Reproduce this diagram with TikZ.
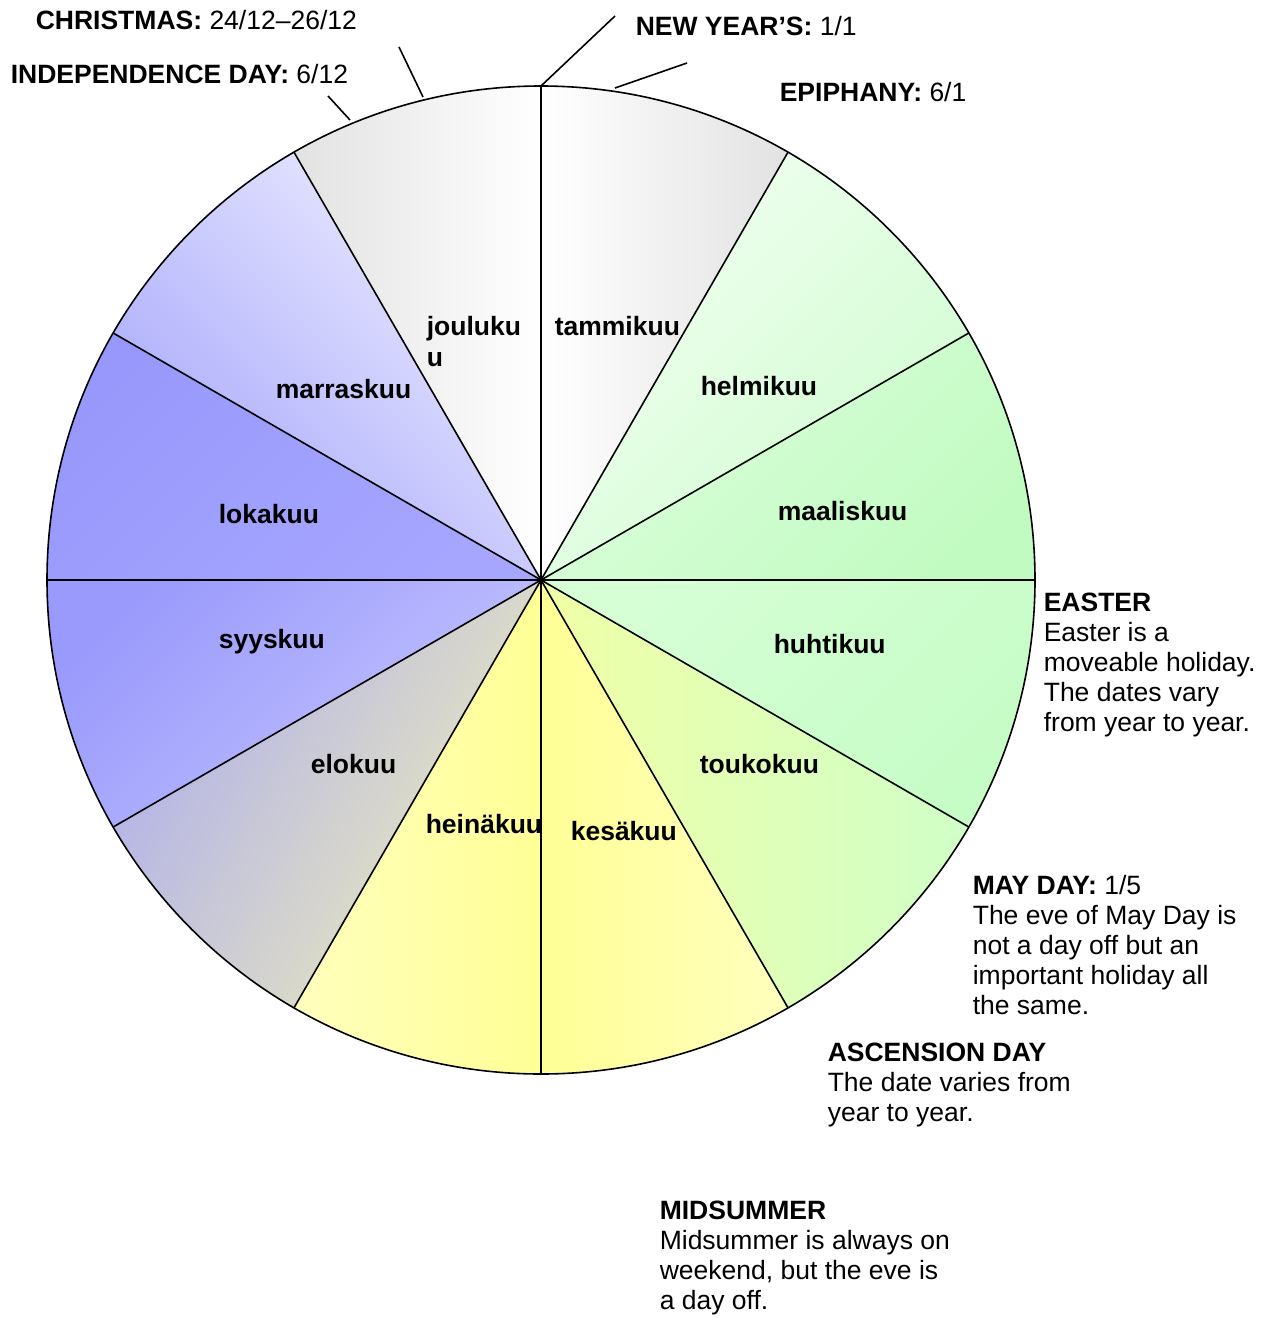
\documentclass[tikz,border=0pt]{standalone}
\usepackage{fontspec}
\setmainfont{Liberation Sans}
\usepackage{tikz}

\definecolor{grayE}{HTML}{E2E2E2}
\definecolor{greenHa}{HTML}{F2FFF2}
\definecolor{greenHb}{HTML}{D0FCD0}
\definecolor{greenMa}{HTML}{DCFEDC}
\definecolor{greenMb}{HTML}{C2FBC2}
\definecolor{greenAa}{HTML}{D6FFD6}
\definecolor{greenAb}{HTML}{C6FCC6}
\definecolor{ygA}{HTML}{F0FFA6}
\definecolor{ygB}{HTML}{D0FFC8}
\definecolor{yelS}{HTML}{FFFF96}
\definecolor{yelP}{HTML}{FFFFBE}
\definecolor{eloB}{HTML}{B0B0EA}
\definecolor{eloY}{HTML}{ECEBBC}
\definecolor{syyD}{HTML}{9A9AFC}
\definecolor{syyL}{HTML}{C4C4FF}
\definecolor{lokD}{HTML}{9898FC}
\definecolor{lokL}{HTML}{A6A6FF}
\definecolor{marL}{HTML}{EEEEFF}
\definecolor{marD}{HTML}{A6A6FC}

\begin{document}
\begin{tikzpicture}[x=1pt, y=1pt, line width=1.6pt,
        month/.style={anchor=base west, inner sep=0pt, font=\fontsize{26.5}{31}\selectfont\bfseries},
        holiday/.style={anchor=base west, inner sep=0pt, font=\fontsize{26.5}{30}\selectfont},
        note/.style={anchor=north west, inner sep=0pt, align=left, font=\fontsize{26.5}{30}\selectfont}]
        \useasboundingbox (0,0) rectangle (1274,-1318);
        \coordinate (C) at (541,-580);

        \foreach \a/\ct/\cb/\sa in {60/white/grayE/90, 90/white/grayE/-90,
                30/greenHa/greenHb/45, 0/greenMa/greenMb/45, -30/greenAa/greenAb/45,
                -60/ygA/ygB/90, -90/yelS/yelP/90, -120/yelS/yelP/-90,
                -150/eloB/eloY/60, -180/syyD/syyL/45, 150/lokD/lokL/45, 120/marL/marD/-45}
            \shade[top color=\ct, bottom color=\cb, shading angle=\sa]
                (C) -- ++(\a:494) arc[start angle=\a, delta angle=30, radius=494] -- cycle;

        \draw (C) circle[radius=494];
        \foreach \a in {0,30,...,330}
            \draw (C) -- ++(\a:494);

        \node[month] (M1) at (554,-335) {tammikuu};
        \node[month] (M2) at (700,-395) {helmikuu};
        \node[month] (M3) at (777,-520) {maaliskuu};
        \node[month] (M4) at (773,-653) {huhtikuu};
        \node[month] (M5) at (699,-773) {toukokuu};
        \node[month] (M6) at (570,-840) {kesäkuu};
        \node[month] (M7) at (425,-833) {heinäkuu};
        \node[month] (M8) at (310,-773) {elokuu};
        \node[month] (M9) at (218,-648) {syyskuu};
        \node[month] (M10) at (218,-523) {lokakuu};
        \node[month] (M11) at (275,-398) {marraskuu};
        \node[month, anchor=north west, align=left] (M12) at (426,-315) {jouluku\\u};

        \node[holiday] (H1) at (635,-35) {\textbf{NEW YEAR’S:} 1/1};
        \node[holiday] (H2) at (779,-101.5) {\textbf{EPIPHANY:} 6/1};
        \node[note] (H3) at (1043,-592.5) {\textbf{EASTER}\\Easter is a\\moveable holiday.\\The dates vary\\from year to year.};
        \node[note] (H4) at (972,-874.5) {\textbf{MAY DAY:} 1/5\\The eve of May Day is\\not a day off but an\\important holiday all\\the same.};
        \node[note] (H5) at (827,-1042.5) {\textbf{ASCENSION DAY}\\The date varies from\\year to year.};
        \node[note] (H6) at (659,-1200.5) {\textbf{MIDSUMMER}\\Midsummer is always on\\weekend, but the eve is\\a day off.};
        \node[holiday] (H7) at (10,-83) {\textbf{INDEPENDENCE DAY:} 6/12};
        \node[holiday] (H8) at (35,-29) {\textbf{CHRISTMAS:} 24/12–26/12};

        \coordinate (N1) at (541,-86);  \coordinate (N2) at (615,-16);
        \coordinate (E1) at (615,-88);  \coordinate (E2) at (687,-63);
        \coordinate (X1) at (423,-97);  \coordinate (X2) at (399,-47);
        \coordinate (I1) at (350,-120); \coordinate (I2) at (328,-96);
        \draw (N1) edge (N2) (E1) edge (E2) (X1) edge (X2) (I1) edge (I2);
      \end{tikzpicture}
\end{document}
